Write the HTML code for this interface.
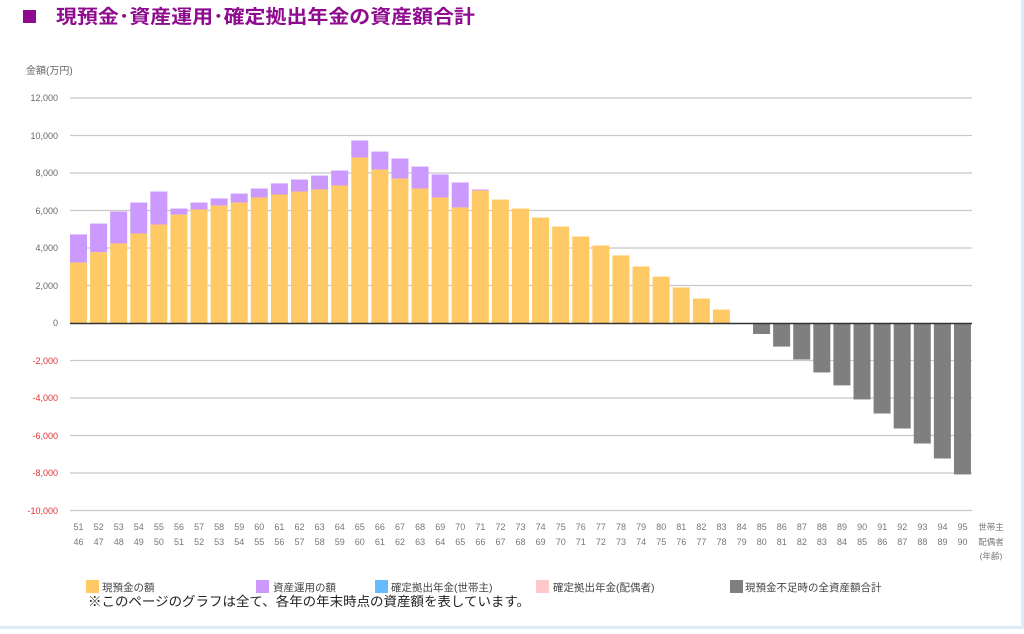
<!DOCTYPE html>
<html><head><meta charset="utf-8"><style>
html,body{margin:0;padding:0;background:#fff;}
body{width:1024px;height:629px;overflow:hidden;font-family:"Liberation Sans","Noto Sans CJK JP",sans-serif;}
</style></head><body>
<svg width="1024" height="629" viewBox="0 0 1024 629" xmlns="http://www.w3.org/2000/svg" font-family="Liberation Sans, Noto Sans CJK JP, sans-serif">
<rect x="1021" y="0" width="3" height="629" fill="#dcecf8"/>
<rect x="0" y="626" width="1024" height="3" fill="#dcecf8"/>
<rect x="23" y="10" width="13" height="13" fill="#8e0a8e"/>
<text x="56" y="23" font-size="19" font-weight="bold" fill="#8e0a8e" textLength="419" lengthAdjust="spacingAndGlyphs">現預金･資産運用･確定拠出年金の資産額合計</text>
<text x="26" y="74" font-size="10" fill="#666">金額(万円)</text>
<g stroke="#c8c8c8" stroke-width="1.2">
<line x1="70" y1="98" x2="972" y2="98"/><line x1="70" y1="135.5" x2="972" y2="135.5"/><line x1="70" y1="173" x2="972" y2="173"/><line x1="70" y1="210.5" x2="972" y2="210.5"/><line x1="70" y1="248" x2="972" y2="248"/><line x1="70" y1="285.5" x2="972" y2="285.5"/><line x1="70" y1="360.5" x2="972" y2="360.5"/><line x1="70" y1="398" x2="972" y2="398"/><line x1="70" y1="435.5" x2="972" y2="435.5"/><line x1="70" y1="473" x2="972" y2="473"/><line x1="70" y1="510.5" x2="972" y2="510.5"/>
</g>
<g font-size="9" text-anchor="end">
<g fill="#666"><text x="58" y="101">12,000</text><text x="58" y="139">10,000</text><text x="58" y="176">8,000</text><text x="58" y="214">6,000</text><text x="58" y="251">4,000</text><text x="58" y="289">2,000</text><text x="58" y="326">0</text></g>
<g fill="#e53030"><text x="58" y="364">-2,000</text><text x="58" y="401">-4,000</text><text x="58" y="439">-6,000</text><text x="58" y="476">-8,000</text><text x="58" y="514">-10,000</text></g>
</g>
<g id="bars"></g>
<line x1="70" y1="323.5" x2="972" y2="323.5" stroke="#333" stroke-width="1.5"/>
<g font-size="9" fill="#777" text-anchor="middle">
<text y="530"><tspan x="78.5">51</tspan><tspan x="98.6">52</tspan><tspan x="118.7">53</tspan><tspan x="138.8">54</tspan><tspan x="158.9">55</tspan><tspan x="179">56</tspan><tspan x="199.1">57</tspan><tspan x="219.1">58</tspan><tspan x="239.2">59</tspan><tspan x="259.3">60</tspan><tspan x="279.4">61</tspan><tspan x="299.5">62</tspan><tspan x="319.6">63</tspan><tspan x="339.7">64</tspan><tspan x="359.8">65</tspan><tspan x="379.9">66</tspan><tspan x="400">67</tspan><tspan x="420.1">68</tspan><tspan x="440.2">69</tspan><tspan x="460.3">70</tspan><tspan x="480.4">71</tspan><tspan x="500.5">72</tspan><tspan x="520.5">73</tspan><tspan x="540.6">74</tspan><tspan x="560.7">75</tspan><tspan x="580.8">76</tspan><tspan x="600.9">77</tspan><tspan x="621">78</tspan><tspan x="641.1">79</tspan><tspan x="661.2">80</tspan><tspan x="681.3">81</tspan><tspan x="701.4">82</tspan><tspan x="721.5">83</tspan><tspan x="741.6">84</tspan><tspan x="761.7">85</tspan><tspan x="781.8">86</tspan><tspan x="801.9">87</tspan><tspan x="821.9">88</tspan><tspan x="842">89</tspan><tspan x="862.1">90</tspan><tspan x="882.2">91</tspan><tspan x="902.3">92</tspan><tspan x="922.4">93</tspan><tspan x="942.5">94</tspan><tspan x="962.5">95</tspan></text>
<text y="545"><tspan x="78.5">46</tspan><tspan x="98.6">47</tspan><tspan x="118.7">48</tspan><tspan x="138.8">49</tspan><tspan x="158.9">50</tspan><tspan x="179">51</tspan><tspan x="199.1">52</tspan><tspan x="219.1">53</tspan><tspan x="239.2">54</tspan><tspan x="259.3">55</tspan><tspan x="279.4">56</tspan><tspan x="299.5">57</tspan><tspan x="319.6">58</tspan><tspan x="339.7">59</tspan><tspan x="359.8">60</tspan><tspan x="379.9">61</tspan><tspan x="400">62</tspan><tspan x="420.1">63</tspan><tspan x="440.2">64</tspan><tspan x="460.3">65</tspan><tspan x="480.4">66</tspan><tspan x="500.5">67</tspan><tspan x="520.5">68</tspan><tspan x="540.6">69</tspan><tspan x="560.7">70</tspan><tspan x="580.8">71</tspan><tspan x="600.9">72</tspan><tspan x="621">73</tspan><tspan x="641.1">74</tspan><tspan x="661.2">75</tspan><tspan x="681.3">76</tspan><tspan x="701.4">77</tspan><tspan x="721.5">78</tspan><tspan x="741.6">79</tspan><tspan x="761.7">80</tspan><tspan x="781.8">81</tspan><tspan x="801.9">82</tspan><tspan x="821.9">83</tspan><tspan x="842">84</tspan><tspan x="862.1">85</tspan><tspan x="882.2">86</tspan><tspan x="902.3">87</tspan><tspan x="922.4">88</tspan><tspan x="942.5">89</tspan><tspan x="962.5">90</tspan></text>
<text x="991" y="530" font-size="8.5">世帯主</text>
<text x="991" y="545" font-size="8.5">配偶者</text>
<text x="991" y="559" font-size="8.5">(年齢)</text>
</g>
<g font-size="10.5" fill="#444">
<rect x="86" y="580" width="13" height="13" fill="#ffc966"/><text x="102" y="591">現預金の額</text>
<rect x="256" y="580" width="13" height="13" fill="#cc99ff"/><text x="273" y="591">資産運用の額</text>
<rect x="375" y="580" width="13" height="13" fill="#66bbff"/><text x="391" y="591">確定拠出年金(世帯主)</text>
<rect x="536" y="580" width="13" height="13" fill="#ffc8cc"/><text x="553" y="591">確定拠出年金(配偶者)</text>
<rect x="730" y="580" width="13" height="13" fill="#7f7f7f"/><text x="745" y="591">現預金不足時の全資産額合計</text>
</g>
<text x="88" y="606" font-size="13" fill="#222" textLength="442" lengthAdjust="spacingAndGlyphs">※このページのグラフは全て、各年の年末時点の資産額を表しています。</text>
</svg>
<script>
var o=[3250,3800,4270,4800,5280,5810,6080,6290,6450,6720,6880,7040,7150,7360,8850,8210,7730,7200,6720,6190,7090,6610,6130,5650,5170,4640,4160,3630,3040,2500,1920,1330,740,0,-560,-1230,-1920,-2610,-3300,-4050,-4800,-5600,-6400,-7200,-8050];
var t=[4750,5330,5970,6450,7040,6130,6450,6670,6930,7200,7470,7680,7890,8160,9760,9170,8800,8370,7950,7520,7150];
var g=document.getElementById('bars'),s='',k=0.01875,z=323.5;
for(var i=0;i<o.length;i++){var x=70+20.09*i,v=o[i];
if(v>0){if(t[i]){s+='<rect x="'+x+'" y="'+(z-t[i]*k)+'" width="17" height="'+((t[i]-v)*k)+'" fill="#cc99ff"/>';}
s+='<rect x="'+x+'" y="'+(z-v*k)+'" width="17" height="'+(v*k)+'" fill="#ffc966"/>';}
else if(v<0){s+='<rect x="'+x+'" y="'+z+'" width="17" height="'+(-v*k)+'" fill="#7f7f7f"/>';}}
g.innerHTML=s;
</script>
</body></html>
